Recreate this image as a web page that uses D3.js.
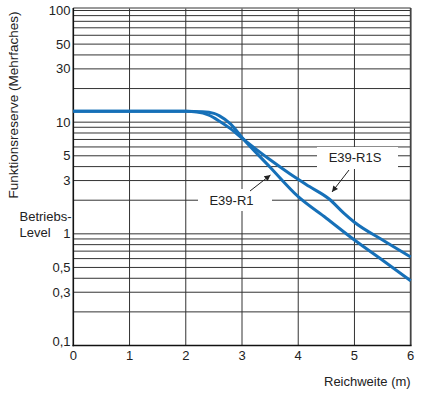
<!DOCTYPE html>
<html>
<head>
<meta charset="utf-8">
<script src="https://cdn.jsdelivr.net/npm/d3@7"></script>
<style>
  html, body { margin: 0; padding: 0; background: #fff; }
  svg { display: block; }
  text { font-family: "Liberation Sans", Arial, Helvetica, sans-serif; fill: #222; }
</style>
</head>
<body>
<svg id="chart" width="427" height="394"></svg>
<script>
// ---- data ----
const xTicks = [0, 1, 2, 3, 4, 5, 6];
const yTickValues = [100, 50, 30, 10, 5, 3, 1, 0.5, 0.3, 0.1];
const yTickLabels = ["100", "50", "30", "10", "5", "3", "1", "0,5", "0,3", "0,1"];

const r1Range   = [0, 1, 2, 2.3, 2.5, 2.6, 2.8, 3.0, 3.5, 4.0, 4.5, 5.0, 5.5, 6.0];
const r1Reserve = [12.5, 12.5, 12.5, 12.4, 12.0, 11.4, 9.6, 7.3, 3.95, 2.15, 1.38, 0.88, 0.58, 0.38];

const r1sRange   = [0, 1, 2, 2.2, 2.4, 2.6, 2.8, 3.0, 3.5, 3.85, 4.2, 4.55, 4.8, 5.0, 5.5, 6.0];
const r1sReserve = [12.5, 12.5, 12.5, 12.3, 11.6, 10.2, 8.7, 7.2, 4.6, 3.45, 2.65, 2.05, 1.55, 1.27, 0.88, 0.62];

const seriesNames = ["E39-R1", "E39-R1S"];
const xTitle = "Reichweite (m)";
const yTitle = "Funktionsreserve (Mehrfaches)";
const levelLabel = ["Betriebs-", "Level"];

// ---- layout ----
const svg = d3.select("#chart");
const x = d3.scaleLinear().domain([0, 6]).range([73.3, 410.7]);
const y = d3.scaleLog().domain([0.1, 100]).range([345.5, 10.5]);
const frameTop = 8;
const blue = "#1670b8";
const fontSize = 13;

// grid
const grid = svg.append("g");
grid.selectAll("line.h").data(y.ticks().filter(v => v > 0.1))
  .join("line")
  .attr("x1", x(0)).attr("x2", x(6))
  .attr("y1", d => y(d)).attr("y2", d => y(d))
  .attr("stroke", "#333").attr("stroke-width", 1);
grid.selectAll("line.v").data(xTicks.filter(v => v > 0 && v < 6))
  .join("line")
  .attr("x1", d => x(d)).attr("x2", d => x(d))
  .attr("y1", frameTop).attr("y2", y(0.1))
  .attr("stroke", "#333").attr("stroke-width", 1);

// frame
svg.append("line").attr("x1", x(0)).attr("x2", x(6)).attr("y1", frameTop).attr("y2", frameTop)
  .attr("stroke", "#777").attr("stroke-width", 1.3);
svg.append("line").attr("x1", x(6)).attr("x2", x(6)).attr("y1", frameTop).attr("y2", y(0.1))
  .attr("stroke", "#444").attr("stroke-width", 1.8);
svg.append("line").attr("x1", x(0)).attr("x2", x(0)).attr("y1", frameTop).attr("y2", y(0.1) + 0.8)
  .attr("stroke", "#111").attr("stroke-width", 1.6);
svg.append("line").attr("x1", x(0) - 0.8).attr("x2", x(6) + 0.9).attr("y1", y(0.1)).attr("y2", y(0.1))
  .attr("stroke", "#111").attr("stroke-width", 1.6);

// white boxes for series labels
const labelBoxes = [
  { name: seriesNames[0], x0: 198, x1: 272, y0: 189, y1: 211, tx: 231.5, ty: 200 },
  { name: seriesNames[1], x0: 317, x1: 398, y0: 147, y1: 169, tx: 355, ty: 157 }
];
svg.selectAll("rect.lb").data(labelBoxes).join("rect")
  .attr("x", d => d.x0).attr("y", d => d.y0)
  .attr("width", d => d.x1 - d.x0).attr("height", d => d.y1 - d.y0)
  .attr("fill", "#fff");
svg.selectAll("text.lb").data(labelBoxes).join("text")
  .attr("x", d => d.tx).attr("y", d => d.ty)
  .attr("text-anchor", "middle").attr("dominant-baseline", "central")
  .style("font-size", fontSize + "px")
  .text(d => d.name);

// arrows
const defs = svg.append("defs");
defs.append("marker").attr("id", "ah")
  .attr("viewBox", "0 0 10 10").attr("refX", 10).attr("refY", 5)
  .attr("markerWidth", 7).attr("markerHeight", 6).attr("markerUnits", "userSpaceOnUse")
  .attr("orient", "auto")
  .append("path").attr("d", "M0,0 L10,5 L0,10 Z").attr("fill", "#222");
const arrows = [
  { x1: 250, y1: 191, x2: 270.5, y2: 175 },
  { x1: 349, y1: 170, x2: 332, y2: 192 }
];
svg.selectAll("line.arr").data(arrows).join("line")
  .attr("x1", d => d.x1).attr("y1", d => d.y1)
  .attr("x2", d => d.x2).attr("y2", d => d.y2)
  .attr("stroke", "#222").attr("stroke-width", 1)
  .attr("marker-end", "url(#ah)");

// curves
const line = d3.line().x(d => x(d[0])).y(d => y(d[1])).curve(d3.curveMonotoneX);
const series = [
  r1Range.map((r, i) => [r, r1Reserve[i]]),
  r1sRange.map((r, i) => [r, r1sReserve[i]])
];
svg.selectAll("path.s").data(series).join("path")
  .attr("d", line)
  .attr("fill", "none").attr("stroke", blue).attr("stroke-width", 3)
  .attr("stroke-linejoin", "round").attr("stroke-linecap", "butt");

// y tick labels
svg.selectAll("text.yt").data(yTickValues).join("text")
  .attr("x", 70.5)
  .attr("y", d => d === 0.1 ? y(d) - 4 : y(d))
  .attr("text-anchor", "end").attr("dominant-baseline", "central")
  .style("font-size", fontSize + "px")
  .text((d, i) => yTickLabels[i]);

// x tick labels
svg.selectAll("text.xt").data(xTicks).join("text")
  .attr("x", d => x(d)).attr("y", 355.5)
  .attr("text-anchor", "middle").attr("dominant-baseline", "central")
  .style("font-size", fontSize + "px")
  .text(d => d);

// titles
svg.append("text").attr("x", 410.7).attr("y", 381.5)
  .attr("text-anchor", "end").attr("dominant-baseline", "central")
  .style("font-size", fontSize + "px").text(xTitle);
svg.append("text")
  .attr("transform", "translate(13.5,105) rotate(-90)")
  .attr("text-anchor", "middle").attr("dominant-baseline", "central")
  .style("font-size", "13.5px").text(yTitle);

// Betriebs-Level
svg.append("text").attr("x", 19.5).attr("y", 216)
  .attr("dominant-baseline", "central")
  .style("font-size", fontSize + "px").text(levelLabel[0]);
svg.append("text").attr("x", 19.5).attr("y", 232)
  .attr("dominant-baseline", "central")
  .style("font-size", fontSize + "px").text(levelLabel[1]);
</script>
</body>
</html>
